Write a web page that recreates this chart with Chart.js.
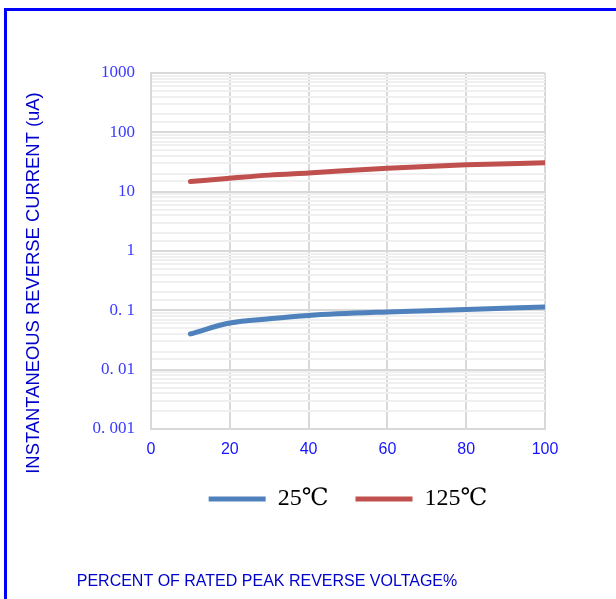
<!DOCTYPE html>
<html>
<head>
<meta charset="utf-8">
<script src="https://cdn.jsdelivr.net/npm/chart.js@4.4.1/dist/chart.umd.min.js"></script>
<style>
  html, body { margin: 0; padding: 0; background: #fff; }
</style>
</head>
<body>
<canvas id="myChart" width="616" height="599"></canvas>
<script>
// values
const voltagePct = [10, 20, 30, 40, 60, 80, 100];
const current25 = [0.040, 0.061, 0.072, 0.082, 0.094, 0.103, 0.114];
const current125 = [14.8, 16.8, 19.0, 20.7, 24.8, 28.3, 30.6];
const seriesLabels = ['25℃', '125℃'];
const seriesColors = ['#4f81bd', '#c0504d'];
const yTickValues = [0.001, 0.01, 0.1, 1, 10, 100, 1000];
const yTickLabels = ['0. 001', '0. 01', '0. 1', '1', '10', '100', '1000'];
const xTitle = 'PERCENT OF RATED PEAK REVERSE VOLTAGE%';
const yTitle = 'INSTANTANEOUS REVERSE CURRENT (uA)';

const toPoints = ys => voltagePct.map((x, i) => ({ x: x, y: ys[i] }));

const isDecade = v => {
  const e = Math.log10(v);
  return Math.abs(e - Math.round(e)) < 1e-6;
};

// blue frame on the left/top and the two axis titles
const frameAndTitles = {
  id: 'frameAndTitles',
  beforeDraw(chart) {
    const ctx = chart.ctx;
    ctx.save();
    ctx.fillStyle = '#ffffff';
    ctx.fillRect(0, 0, chart.width, chart.height);
    ctx.fillStyle = '#0000ff';
    ctx.fillRect(4, 8, chart.width - 4, 3);
    ctx.fillRect(4, 8, 3, chart.height - 8);
    ctx.restore();
  },
  afterDraw(chart) {
    const ctx = chart.ctx;
    ctx.save();
    ctx.fillStyle = '#0000cc';
    ctx.textAlign = 'center';
    ctx.textBaseline = 'middle';
    ctx.font = '16px "Liberation Sans", Arial, sans-serif';
    ctx.fillText(xTitle, 267, 582);
    ctx.font = '18.4px "Liberation Sans", Arial, sans-serif';
    ctx.translate(34, 283);
    ctx.rotate(-Math.PI / 2);
    ctx.fillText(yTitle, 0, 0);
    ctx.restore();
  }
};

const ctx = document.getElementById('myChart');
const myChart = new Chart(ctx, {
  type: 'line',
  data: {
    datasets: [{
      label: seriesLabels[0],
      data: toPoints(current25),
      borderColor: seriesColors[0],
      backgroundColor: seriesColors[0],
      borderWidth: 5,
      borderCapStyle: 'round',
      cubicInterpolationMode: 'monotone',
      pointRadius: 0,
      fill: false
    }, {
      label: seriesLabels[1],
      data: toPoints(current125),
      borderColor: seriesColors[1],
      backgroundColor: seriesColors[1],
      borderWidth: 5,
      borderCapStyle: 'round',
      cubicInterpolationMode: 'monotone',
      pointRadius: 0,
      fill: false
    }]
  },
  options: {
    responsive: false,
    animation: false,
    layout: {
      padding: { left: 0, top: 73, right: 71, bottom: 78 }
    },
    plugins: {
      tooltip: { enabled: false },
      legend: {
        position: 'bottom',
        fullSize: false,
        labels: {
          usePointStyle: true,
          pointStyle: 'line',
          pointStyleWidth: 57,
          padding: 27,
          color: '#000000',
          font: { family: '"Liberation Serif", "DejaVu Serif", serif', size: 24 }
        }
      }
    },
    scales: {
      x: {
        type: 'linear',
        position: 'bottom',
        min: 0,
        max: 100,
        afterFit: s => { s.height = 31; },
        ticks: {
          stepSize: 20,
          padding: 11,
          color: '#1414ff',
          font: { family: '"Liberation Sans", Arial, sans-serif', size: 16 }
        },
        grid: { color: '#d9d9d9', lineWidth: 2, drawTicks: false },
        border: { color: '#d9d9d9', width: 2 }
      },
      y: {
        type: 'logarithmic',
        position: 'left',
        min: 0.001,
        max: 1000,
        afterFit: s => { s.width = 151; },
        ticks: {
          autoSkip: false,
          padding: 16,
          color: '#3a3aff',
          font: { family: '"Liberation Serif", "DejaVu Serif", serif', size: 17 },
          callback: v => {
            if (!isDecade(v)) return '';
            const i = yTickValues.findIndex(t => Math.abs(Math.log10(t) - Math.log10(v)) < 1e-6);
            return i >= 0 ? yTickLabels[i] : '';
          }
        },
        grid: {
          drawTicks: false,
          lineWidth: 2,
          color: c => (c.tick && isDecade(c.tick.value)) ? '#d9d9d9' : '#f0f0f0'
        },
        border: { color: '#d9d9d9', width: 2 }
      }
    }
  },
  plugins: [frameAndTitles]
});
</script>
</body>
</html>
